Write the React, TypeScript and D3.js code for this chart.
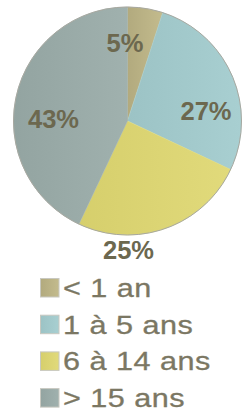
import React, { useEffect, useRef } from "react";
import * as d3 from "d3";

const categories = ["< 1 an", "1 à 5 ans", "6 à 14 ans", "> 15 ans"];
const values = [5, 27, 25, 43];
const colors = ["#c3bb8d", "#a8cfd1", "#e1da7b", "#a0b1ae"];
const darkColors = ["#b2aa7e", "#9cc3c5", "#d6cf6c", "#93a4a1"];

const width = 243;
const height = 411;

const App: React.FC = () => {
  const svgRef = useRef<SVGSVGElement | null>(null);

  useEffect(() => {
    if (!svgRef.current) return;
    const svg = d3.select(svgRef.current);
    svg.selectAll("*").remove();

    const cx = 127.5;
    const cy = 121;
    const radius = 114;

    // gradients for slices (darker toward the left)
    const defs = svg.append("defs");
    colors.forEach((c, i) => {
      const grad = defs
        .append("linearGradient")
        .attr("id", `grad${i}`)
        .attr("x1", "0%")
        .attr("x2", "100%");
      grad.append("stop").attr("offset", "0%").attr("stop-color", darkColors[i]);
      grad.append("stop").attr("offset", "100%").attr("stop-color", c);
    });

    const pie = d3
      .pie<number>()
      .sort(null)
      .value((d) => d);
    const arcs = pie(values);

    const arc = d3
      .arc<d3.PieArcDatum<number>>()
      .innerRadius(0)
      .outerRadius(radius);

    const g = svg.append("g").attr("transform", `translate(${cx},${cy})`);

    g.selectAll("path.slice")
      .data(arcs)
      .join("path")
      .attr("class", "slice")
      .attr("d", arc)
      .attr("fill", (_, i) => `url(#grad${i})`)
      .attr("stroke", (_, i) => colors[i])
      .attr("stroke-width", 0.5);

    g.append("circle")
      .attr("r", radius)
      .attr("fill", "none")
      .attr("stroke", "#a7a8a0")
      .attr("stroke-width", 1);

    // percentage labels
    const labelPos: [number, number][] = [
      [-2.5, -69],
      [78.5, -1],
      [1, 138],
      [-74, 7],
    ];
    g.selectAll("text.pct")
      .data(arcs)
      .join("text")
      .attr("class", "pct")
      .attr("x", (_, i) => labelPos[i][0])
      .attr("y", (_, i) => labelPos[i][1])
      .attr("text-anchor", "middle")
      .attr("font-family", "Liberation Sans, Arial, sans-serif")
      .attr("font-weight", "bold")
      .attr("font-size", 25.5)
      .attr("fill", "#6c684f")
      .text((d) => `${d.data}%`);

    // legend
    const legend = svg.append("g").attr("transform", "translate(40,278)");
    const row = d3
      .scaleBand<string>()
      .domain(categories)
      .range([0, 36.7 * 4]);

    const items = legend
      .selectAll("g.item")
      .data(categories)
      .join("g")
      .attr("class", "item")
      .attr("transform", (d) => `translate(0,${row(d)})`);

    items
      .append("rect")
      .attr("x", 0.5)
      .attr("y", 0.5)
      .attr("width", 18.5)
      .attr("height", 18.5)
      .attr("fill", (_, i) => `url(#grad${i})`)
      .attr("stroke", "#c8c8c0")
      .attr("stroke-width", 1);

    items
      .append("text")
      .attr("transform", "translate(23,19) scale(1.2,1)")
      .attr("font-family", "Liberation Sans, Arial, sans-serif")
      .attr("font-size", 25.5)
      .attr("letter-spacing", 0.4)
      .attr("stroke", "#7b7763")
      .attr("stroke-width", 0.3)
      .attr("fill", "#7b7763")
      .text((d) => d);
  }, []);

  return (
    <svg
      ref={svgRef}
      width={width}
      height={height}
      style={{ position: "absolute", left: 0, top: 0, background: "#ffffff" }}
    ></svg>
  );
};

export default App;
